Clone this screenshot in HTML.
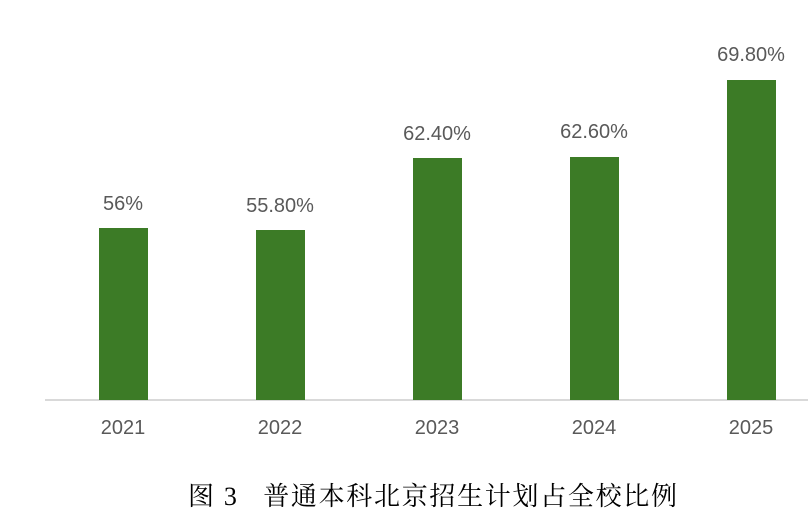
<!DOCTYPE html>
<html><head><meta charset="utf-8"><style>
body{margin:0;width:808px;height:532px;background:#fff;position:relative;overflow:hidden;font-family:"Liberation Sans",sans-serif;color:#595959}
.b{position:absolute;background:#3c7b26;width:49px}
.t{position:absolute;font-size:20px;width:120px;text-align:center;line-height:22px}
</style></head><body>
<div style="position:absolute;left:45px;top:399px;width:763px;height:2px;background:#d9d9d9"></div>
<div class="b" style="left:99px;top:228px;height:172px"></div>
<div class="b" style="left:256px;top:230px;height:170px"></div>
<div class="b" style="left:413px;top:158px;height:242px"></div>
<div class="b" style="left:570px;top:157px;height:243px"></div>
<div class="b" style="left:727px;top:80px;height:320px"></div>
<div class="t" style="left:63px;top:193px">56%</div>
<div class="t" style="left:220px;top:195px">55.80%</div>
<div class="t" style="left:377px;top:123px">62.40%</div>
<div class="t" style="left:534px;top:121px">62.60%</div>
<div class="t" style="left:691px;top:44px">69.80%</div>
<div class="t" style="left:63px;top:417px">2021</div>
<div class="t" style="left:220px;top:417px">2022</div>
<div class="t" style="left:377px;top:417px">2023</div>
<div class="t" style="left:534px;top:417px">2024</div>
<div class="t" style="left:691px;top:417px">2025</div>
<div style="position:absolute;left:188px;top:481px;font-family:'Liberation Serif','Noto Serif CJK SC',serif;font-size:26px;letter-spacing:1.7px;color:#000;white-space:nowrap;line-height:32px">图 3&nbsp;&nbsp;&nbsp;普通本科北京招生计划占全校比例</div>
</body></html>
